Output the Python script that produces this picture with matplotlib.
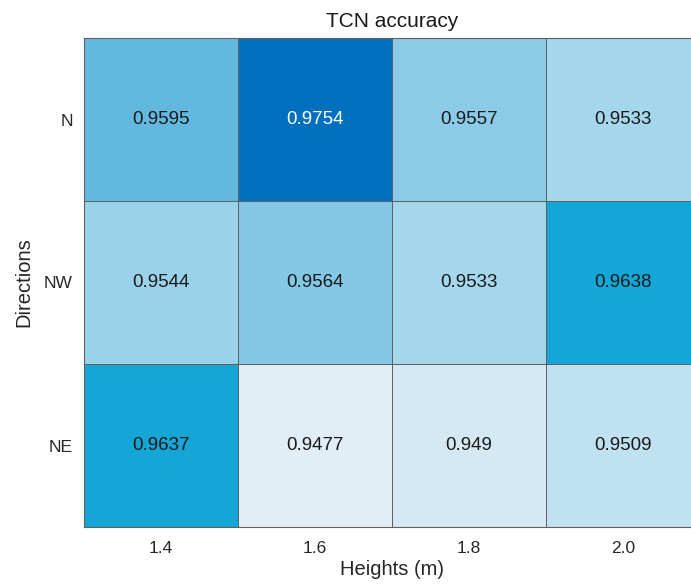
import matplotlib.pyplot as plt
import numpy as np
from matplotlib.colors import LinearSegmentedColormap

# Data
heights = ['1.4', '1.6', '1.8', '2.0']
directions = ['N', 'NW', 'NE']
acc_N = [0.9595, 0.9754, 0.9557, 0.9533]
acc_NW = [0.9544, 0.9564, 0.9533, 0.9638]
acc_NE = [0.9637, 0.9477, 0.949, 0.9509]

values = np.array([acc_N, acc_NW, acc_NE])

plt.rcParams['font.family'] = ['Liberation Sans', 'DejaVu Sans']

# MATLAB-like heatmap blue colormap
cmap = LinearSegmentedColormap.from_list('matlab_blue', [
    (0.00, '#E2EEF5'),
    (0.20, '#A5D7EC'),
    (0.43, '#62B8DF'),
    (0.58, '#13A6D6'),
    (1.00, '#0070BE'),
])

fig = plt.figure(figsize=(6.91, 5.88), dpi=100)
# axes run past the right border as in the reference crop
ax = fig.add_axes([84 / 691, 61 / 588, 616 / 691, 489 / 588])

vmin, vmax = values.min(), values.max()
ax.pcolormesh(values, cmap=cmap, vmin=vmin, vmax=vmax,
              edgecolors='#606060', linewidth=0.7)
ax.set_xlim(0, len(heights))
ax.set_ylim(len(directions), 0)

for i in range(len(directions)):
    for j in range(len(heights)):
        v = values[i, j]
        frac = (v - vmin) / (vmax - vmin)
        color = 'white' if frac > 0.8 else '#1a1a1a'
        ax.text(j + 0.5, i + 0.5, f'{v:g}', ha='center', va='center',
                fontsize=13.5, color=color)

ax.set_xticks(np.arange(len(heights)) + 0.5)
ax.set_xticklabels(heights, fontsize=12.5, color='#262626')
ax.set_yticks(np.arange(len(directions)) + 0.5)
ax.set_yticklabels(directions, fontsize=12.5, color='#262626')
ax.tick_params(axis='x', length=0, pad=10)
ax.tick_params(axis='y', length=0, pad=8)

ax.set_xlabel('Heights (m)', fontsize=14.5, color='#262626', labelpad=3)
ax.set_ylabel('Directions', fontsize=14.5, color='#262626', labelpad=8)
ax.set_title('TCN accuracy', fontsize=15, color='#1a1a1a', pad=8)

for s in ax.spines.values():
    s.set_color('#606060')
    s.set_linewidth(0.8)

fig.savefig('out.png', dpi=100)
